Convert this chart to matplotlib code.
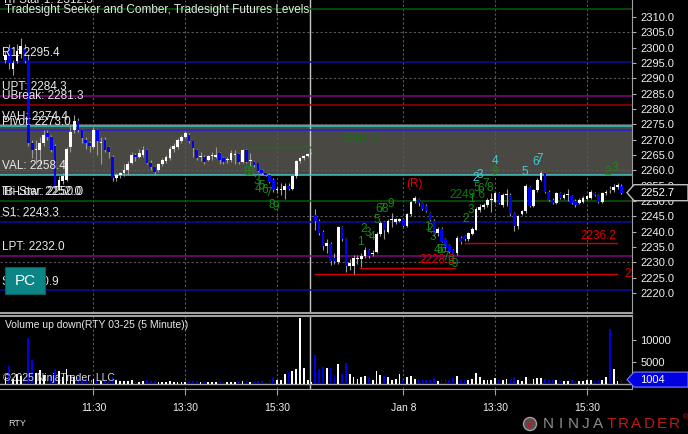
import numpy as np
import pandas as pd
import matplotlib
matplotlib.use("Agg")
import matplotlib.pyplot as plt
from matplotlib.patches import Polygon, Rectangle, Circle
import matplotlib.transforms as mtransforms

plt.rcParams['font.family'] = ['Liberation Sans', 'DejaVu Sans']

W, H = 688, 434

# ---------------- data: RTY 03-25, 5 minute bars ----------------
day1_open = [2296, 2300, 2293, 2295.5, 2298, 2300, 2296, 2269, 2266.5, 2266.5,
             2269, 2272, 2271, 2268, 2254.5, 2256.5, 2257, 2267.5, 2273, 2276,
             2273, 2270, 2269, 2267.5, 2273, 2269, 2270, 2267.5, 2264.5, 2257.5,
             2258.5, 2259, 2260, 2262.5, 2265, 2264.5, 2265, 2266.5, 2262.5, 2261,
             2260, 2262, 2263, 2264, 2266.8, 2267.6, 2269.4, 2271, 2271.5, 2269.4,
             2266.6, 2264.5, 2264.5, 2263.4, 2264.7, 2264.5, 2265.6, 2264, 2263.2, 2263.2,
             2265, 2265.3, 2262.8, 2266.5, 2263, 2262.8, 2262.3, 2260, 2259.2, 2258.5,
             2257, 2253.7, 2253.5, 2253.7, 2255, 2254, 2258, 2263, 2264, 2264.8,
             2265.5]
day1_high = [2299, 2301, 2296, 2301, 2303, 2301, 2298, 2270, 2270, 2271,
             2273, 2273, 2271.5, 2268.5, 2258, 2259, 2267.5, 2275, 2278, 2277,
             2273.5, 2271, 2269.5, 2274, 2273.5, 2271, 2271, 2268, 2265, 2259,
             2259.5, 2262, 2263, 2266, 2265.5, 2267, 2268, 2267, 2263.5, 2261.5,
             2262.5, 2264, 2265, 2268, 2269, 2270.5, 2271.5, 2272.8, 2272, 2269.5,
             2267, 2266, 2265, 2265, 2266, 2267.5, 2266, 2264.5, 2264.5, 2266.5,
             2266.5, 2265.5, 2267, 2267, 2265.5, 2263, 2262.5, 2260.5, 2259.5, 2259,
             2257.5, 2255, 2256, 2256, 2256, 2258.5, 2263.5, 2264.5, 2265, 2265.7,
             2266]
day1_low = [2295, 2293, 2291, 2295, 2296.5, 2295, 2268, 2264, 2262, 2261,
            2268, 2270, 2266, 2253.5, 2253.5, 2255.5, 2256.5, 2266, 2272, 2272.5,
            2269, 2267, 2266, 2267, 2265, 2262, 2266, 2264, 2256.5, 2256.5,
            2257.5, 2258, 2258.5, 2262, 2263, 2264, 2264.5, 2262, 2260, 2258.5,
            2259.5, 2261.5, 2262.5, 2263.5, 2266, 2267, 2269, 2270.5, 2269, 2264.5,
            2263.5, 2263, 2262, 2263, 2263.5, 2264, 2262, 2262, 2262.5, 2262.8,
            2262, 2262, 2262.5, 2262.5, 2261.5, 2261, 2259.5, 2258.5, 2258, 2256,
            2253, 2252.5, 2252, 2250.6, 2253.5, 2253.5, 2257.5, 2262.5, 2263.5, 2264.5,
            2265.3]
day1_close = [2297.5, 2295, 2295, 2299, 2300.5, 2295.5, 2269, 2266.5, 2267, 2269,
              2271.5, 2271, 2266.5, 2254.5, 2257, 2258, 2267, 2272.5, 2276, 2273,
              2270.5, 2269, 2268, 2273, 2269.5, 2269.2, 2266.5, 2266, 2257.5, 2258.5,
              2259, 2260, 2262, 2265, 2264.5, 2265.5, 2266.5, 2262.5, 2261, 2259.5,
              2262, 2263.4, 2264.5, 2267, 2268, 2269.8, 2271, 2272, 2269.4, 2267.2,
              2264, 2264.6, 2262.8, 2264.7, 2264.8, 2265, 2263.4, 2262.8, 2263.8, 2265.8,
              2265.1, 2262.8, 2266.7, 2262.8, 2263.1, 2261.7, 2259.8, 2259, 2258.5, 2256.3,
              2253.7, 2253.8, 2254, 2255, 2254, 2258, 2263, 2264, 2264.7, 2265.3,
              2265.8]
day1_volume = [1500, 4100, 1200, 2200, 1800, 1500, 10400, 5400, 2500, 3200,
               2000, 1200, 2000, 3300, 3000, 1500, 3400, 2000, 1600, 1500,
               1200, 900, 800, 1200, 900, 700, 800, 600, 1500, 800,
               700, 600, 700, 900, 500, 500, 600, 800, 700, 600,
               500, 500, 450, 700, 500, 500, 450, 400, 500, 600,
               700, 400, 500, 400, 350, 450, 500, 500, 400, 450,
               400, 500, 600, 600, 500, 500, 600, 700, 500, 900,
               1500, 1000, 1000, 2300, 2700, 2900, 3300, 14900, 3600, 900,
               500]

day2_open = [2245.5, 2243.5, 2240, 2235.3, 2236, 2231.5, 2230, 2241.5, 2237.5, 2228.8,
             2228.8, 2231, 2231.1, 2232, 2234, 2232.6, 2233.3, 2239.4, 2243, 2240,
             2243.7, 2243.3, 2243.4, 2244, 2242, 2245.6, 2250, 2250.5, 2249.3, 2248.5,
             2246, 2243.5, 2239.5, 2241, 2237.5, 2235.5, 2234, 2233, 2238, 2238.5,
             2237.5, 2239.4, 2240.7, 2247.1, 2248.2, 2248.7, 2250.4, 2249.8, 2252.5, 2248.7,
             2252, 2252, 2246.1, 2242, 2245.9, 2246.6, 2254.5, 2248.5, 2253.6, 2257,
             2259, 2253, 2250.4, 2249.5, 2252.5, 2251, 2252, 2251.6, 2250.1, 2249.3,
             2249.8, 2250.6, 2250.9, 2252.7, 2252, 2249.8, 2252.5, 2254, 2253.5, 2254.5,
             2255]
day2_high = [2247.5, 2244, 2240.5, 2237.5, 2236.5, 2233, 2242, 2242, 2238, 2231,
             2232.5, 2232.5, 2233, 2235, 2234.5, 2234, 2240, 2243.5, 2243.5, 2244,
             2246, 2244.5, 2244.5, 2244.5, 2246, 2250, 2251.5, 2251, 2249.8, 2249,
             2246.5, 2244, 2241.5, 2241.5, 2238, 2236, 2234.5, 2238.5, 2238.5, 2239,
             2240, 2241.5, 2248, 2249, 2249.5, 2251, 2252.5, 2253, 2253, 2252.5,
             2254, 2252.5, 2246.5, 2245.5, 2247, 2255.5, 2255, 2254, 2257.5, 2259.8,
             2259.5, 2253.5, 2251, 2253, 2253, 2252.5, 2254, 2252, 2250.5, 2251,
             2251.5, 2252, 2253.5, 2253, 2252.3, 2253, 2253.5, 2255, 2255.5, 2256,
             2255.5]
day2_low = [2240.5, 2239, 2234, 2233, 2229, 2229.5, 2229.5, 2237, 2227, 2227.5,
            2226.1, 2229.5, 2228.5, 2231.5, 2231.5, 2232, 2233, 2238.5, 2237.5, 2239.5,
            2241.5, 2242.5, 2243, 2241.5, 2241.5, 2245, 2249.5, 2248.5, 2247, 2246.3,
            2243.5, 2238.5, 2238.5, 2236.5, 2234.5, 2233, 2231.5, 2232.5, 2236, 2237,
            2237, 2239, 2240.5, 2246.5, 2247.5, 2248, 2246.5, 2249.5, 2249, 2248,
            2248.5, 2245, 2240.1, 2241, 2245.5, 2246, 2248, 2248, 2253, 2256.5,
            2252.5, 2250, 2249, 2249, 2250.5, 2250.5, 2250, 2249, 2248, 2249,
            2249.5, 2250.3, 2250.5, 2251.5, 2249.5, 2249.5, 2252, 2252.5, 2253, 2254,
            2252.3]
day2_close = [2243.5, 2239.6, 2235.3, 2236.3, 2230.4, 2230.5, 2241.5, 2237.5, 2228.8, 2229.9,
              2231.5, 2231.5, 2232.2, 2234, 2232.2, 2233.2, 2239.4, 2242.8, 2240.6, 2243.4,
              2243.8, 2244, 2244, 2242, 2245.6, 2249.8, 2250.9, 2249.3, 2247.5, 2246.6,
              2243.8, 2239, 2241, 2236.8, 2235, 2233.5, 2232.5, 2238, 2236.5, 2237.5,
              2239.6, 2240.9, 2247.4, 2248.2, 2248.7, 2250.4, 2250.5, 2252.5, 2249.3, 2252,
              2252.1, 2245.6, 2241.7, 2245.2, 2246.6, 2254.9, 2248.5, 2253.6, 2257, 2259,
              2253, 2250.4, 2249.5, 2252.7, 2250.9, 2252, 2252.1, 2249.5, 2248.7, 2250.4,
              2250.9, 2251.7, 2253, 2252, 2249.8, 2252.5, 2253, 2253.5, 2254.5, 2255.3,
              2252.7]
day2_volume = [6600, 3400, 3900, 3700, 3600, 2000, 4500, 2200, 4800, 2300,
               1600, 1200, 1500, 1800, 1300, 900, 3000, 2000, 1800, 1500,
               800, 1100, 2200, 900, 1500, 1900, 1200, 800, 1100, 900,
               900, 1300, 700, 900, 1100, 900, 1300, 1900, 1000, 900,
               800, 1200, 2500, 1500, 1000, 800, 900, 1300, 900, 800,
               1200, 1000, 1500, 900, 700, 1500, 1000, 1200, 1300, 1400,
               1100, 1000, 800, 1000, 700, 600, 700, 800, 700, 600,
               700, 900, 800, 700, 800, 900, 1500, 12500, 3400, 700,
               1004]

times = pd.date_range('2025-01-07 09:35', '2025-01-07 16:15', freq='5min').append(
    pd.date_range('2025-01-08 09:35', '2025-01-08 16:15', freq='5min'))

tick_times = ['2025-01-07 11:30', '2025-01-07 13:30', '2025-01-07 15:30',
              '2025-01-08 11:30', '2025-01-08 13:30', '2025-01-08 15:30']
tick_labels = ['11:30', '13:30', '15:30', 'Jan 8', '13:30', '15:30']

# Tradesight levels
level_names = ['Tri-Star 1', 'R1', 'UPT', 'UBreak', 'VAH', 'Pivot', 'VAL',
               'Tri-Star', 'IB-Low', 'S1', 'LPT', 'S2']
level_values = [2312.5, 2295.4, 2284.3, 2281.3, 2274.4, 2273.0, 2258.4,
                2250.0, 2252.0, 2243.3, 2232.0, 2220.9]
level_label_at = [2312.5, 2295.4, 2284.3, 2281.3, 2274.4, 2273.0, 2258.4,
                  2250.0, 2250.0, 2243.3, 2232.0, 2220.9]
level_colors = ['#0a5a0a', '#0c0ca0', '#800880', '#a00000', '#3fc6c6', '#2020e0', '#3fc6c6',
                '#0a5a0a', None, '#0c0ca0', '#800880', '#0c0ca0']

# Seeker / Comber target lines
red_values = [2228.3, 2236.2, 2226.3]
red_start = [92.8, 120.0, 81.0]
red_end = [117.5, 159.8, 159.8]
green_values = [2267.7]
green_start = [63.0]
green_end = [80.5]

# counts  (bar position, price, text)
green_counts = [
    (63.1, 2259.5, '8'), (64.2, 2259.5, '3'), (65.8, 2256.6, '3'), (66.0, 2254.0, '4'),
    (67.1, 2255.0, '5'), (67.8, 2253.6, '6'), (68.9, 2252.7, '7'), (69.7, 2248.8, '8'),
    (70.7, 2248.1, '9'),
    (92.7, 2236.7, '1'), (93.7, 2240.9, '2'), (94.8, 2239.6, '3'), (95.8, 2238.3, '4'),
    (97.1, 2243.9, '5'), (97.6, 2247.5, '6'), (98.4, 2247.5, '7'), (99.2, 2247.5, '8'),
    (100.8, 2249.1, '9'),
    (110.2, 2241.6, '1'), (111.0, 2240.9, '2'), (111.8, 2238.3, '3'), (112.8, 2234.1, '4'),
    (113.6, 2234.1, '5'), (114.4, 2234.1, '6'), (115.2, 2231.8, '7'), (116.5, 2230.2, '8'),
    (117.5, 2229.5, '9'),
    (120.4, 2244.2, '2'), (121.7, 2247.1, '3'), (121.7, 2250.7, '1'), (123.3, 2254.3, '5'),
    (124.1, 2254.0, '6'), (125.4, 2255.6, '7'), (126.7, 2254.3, '8'), (128.0, 2259.5, '9'),
    (157.5, 2259.5, '2'), (159.3, 2260.8, '3'),
]
cyan_counts = [(123.0, 2257.6, '2'), (124.0, 2258.5, '3'), (128.0, 2263.1, '4'),
               (135.8, 2259.5, '5'), (138.7, 2262.8, '6'), (139.7, 2263.7, '7')]

# ---------------- assemble ----------------
o = np.array(day1_open + day2_open, float)
h = np.array(day1_high + day2_high, float)
l = np.array(day1_low + day2_low, float)
c = np.array(day1_close + day2_close, float)
v = np.array(day1_volume + day2_volume, float)
x = np.arange(len(c))
tick_pos = [times.get_loc(pd.Timestamp(t)) for t in tick_times]
session_line = len(day1_close) - 1.4

BG = 'black'
UP = '#ffffff'
DN = '#0000ff'

fig = plt.figure(figsize=(W / 100, H / 100), dpi=100, facecolor=BG)

def rect(x0, y0, x1, y1):
    return [x0 / W, 1 - y1 / H, (x1 - x0) / W, (y1 - y0) / H]

xlim = (-1.41, 163.77)

# ---- price panel ----
ax = fig.add_axes(rect(0, 0, 632, 313))
ax.set_facecolor(BG)
ax.set_xlim(*xlim)
ax.set_ylim(2213.5, 2315.5)

# value area box
ax.axhspan(level_values[6], level_values[4] + 0.6, color='#4a4843', zorder=0.5, lw=0)

# grid
for gy in np.arange(2230, 2306, 15):
    ax.axhline(gy, color='#5a5a5a', lw=0.8, ls=(0, (2, 2)), zorder=0.8)
for tp in tick_pos:
    ax.axvline(tp, color='#5a5a5a', lw=0.8, ls=(0, (2, 2)), zorder=0.8)
ax.axvline(session_line, color='#c8c8c8', lw=1.0, zorder=0.9)

blend = mtransforms.blended_transform_factory(ax.transAxes, ax.transData)
for name, val, at, col in zip(level_names, level_values, level_label_at, level_colors):
    if col is not None:
        ax.axhline(val, color=col, lw=1.1, zorder=1)
    ax.text(0.003, at + 0.9, f"{name}: {val:.1f}", transform=blend, color='#e8e8e8',
            fontsize=8.5, va='bottom', ha='left', zorder=6)

for val, s, e in zip(red_values, red_start, red_end):
    ax.plot([s, e], [val, val], color='#d00000', lw=1.0, zorder=1.2)
ax.text(red_end[0], red_values[0] + 0.5, f"{red_values[0]:.1f}", color='#e00000',
        fontsize=8.5, ha='right', va='bottom', zorder=6)
ax.text(red_end[1], red_values[1] + 0.5, f"{red_values[1]:.1f}", color='#e00000',
        fontsize=8.5, ha='right', va='bottom', zorder=6)
ax.text(161.9, red_values[2], f"{red_values[2]:.1f}", color='#e00000',
        fontsize=8.5, ha='left', va='center', zorder=6, clip_on=True)
for val, s, e in zip(green_values, green_start, green_end):
    ax.plot([s, e], [val, val], color='#0a7a0a', lw=1.0, zorder=1.2)
    ax.text(88.2, val + 0.5, f"{val:.1f}", color='#0a7a0a', fontsize=8.5,
            ha='left', va='bottom', zorder=6)
ax.text(116.0, 2252.0, "2249.6", color='#0a7a0a', fontsize=8.5, ha='left',
        va='center', zorder=6)

# candles
up = c >= o
ax.vlines(x, l, h, color='#9a9a9a', lw=0.8, zorder=2)
body_lo = np.minimum(o, c)
body_h = np.maximum(np.abs(c - o), 0.3)
ax.bar(x[up], body_h[up], bottom=body_lo[up], width=0.7, color=UP, zorder=3, lw=0)
ax.bar(x[~up], body_h[~up], bottom=body_lo[~up], width=0.7, color=DN, zorder=3, lw=0)

for px, py, t in green_counts:
    ax.text(px, py, t, color='#138c13', fontsize=8.5, ha='center', va='center', zorder=5)
for px, py, t in cyan_counts:
    ax.text(px, py, t, color='#3ccfd6', fontsize=8.5, ha='center', va='center', zorder=5)
ax.text(106.8, 2255.6, "(R)", color='#e00000', fontsize=8.5, ha='center', va='center', zorder=5)

ax.yaxis.tick_right()
ax.set_yticks(np.arange(2220, 2311, 5))
ax.set_yticklabels([f"{t:.1f}" for t in np.arange(2220, 2311, 5)])
ax.tick_params(axis='y', colors='#b0b0b0', labelcolor='#f0f0f0', labelsize=8, length=3, pad=3)
ax.set_xticks([])
for s in ['left', 'top']:
    ax.spines[s].set_visible(False)
ax.spines['right'].set_color('#a0a0a0')
ax.spines['bottom'].set_color('#a0a0a0')
ax.spines['bottom'].set_linewidth(1.5)

# ---- volume panel ----
av = fig.add_axes(rect(0, 316, 632, 389))
av.set_facecolor(BG)
av.set_xlim(*xlim)
av.set_ylim(-1136, 15454)
for tp in tick_pos:
    av.axvline(tp, color='#5a5a5a', lw=0.8, ls=(0, (2, 2)), zorder=0.8)
av.axvline(session_line, color='#c8c8c8', lw=1.0, zorder=0.9)
av.axhline(0, color='#a0a0a0', lw=1.0, zorder=1)
av.bar(x[up], v[up], width=0.45, color=UP, zorder=2, lw=0)
av.bar(x[~up], v[~up], width=0.45, color='#0000e6', zorder=2, lw=0)
av.yaxis.tick_right()
av.set_yticks([5000, 10000])
av.set_yticklabels(['5000', '10000'])
av.tick_params(axis='y', colors='#b0b0b0', labelcolor='#f0f0f0', labelsize=8, length=3, pad=3)
av.set_xticks(tick_pos)
av.set_xticklabels(tick_labels)
av.tick_params(axis='x', colors='#a0a0a0', labelcolor='#f0f0f0', labelsize=7.5, length=4, pad=6)
av.spines['left'].set_visible(False)
for s in ['right', 'top', 'bottom']:
    av.spines[s].set_color('#a0a0a0')
av.spines['top'].set_linewidth(1.5)

# ---- overlay in pixel coordinates ----
ov = fig.add_axes([0, 0, 1, 1], zorder=10)
ov.set_xlim(0, W)
ov.set_ylim(H, 0)
ov.axis('off')
ov.patch.set_alpha(0)

def to_px(axis, xv, yv):
    dx, dy = axis.transData.transform((xv, yv))
    return dx, H - dy

ov.text(5, 10, "Tradesight Seeker and Comber, Tradesight Futures Levels", color='#e8e8e8',
        fontsize=8.5, ha='left', va='center')

# PC button
ov.add_patch(Rectangle((5, 267), 40, 27, facecolor='#0b8585', edgecolor='#06605f', lw=0.8))
ov.text(25, 281, "PC", color='white', fontsize=11, ha='center', va='center')

# last price marker
_, yp = to_px(ax, 0, c[-1])
ov.add_patch(Polygon([(627, yp), (634, yp - 8), (688, yp - 8), (688, yp + 8), (634, yp + 8)],
                     closed=True, facecolor='black', edgecolor='#c0c0c0', lw=1))
ov.text(640, yp, f"{c[-1]:.1f}", color='white', fontsize=8, ha='left', va='center')

# last volume marker
_, yv = to_px(av, 0, v[-1])
ov.add_patch(Polygon([(627, yv), (634, yv - 7.5), (688, yv - 7.5), (688, yv + 7.5), (634, yv + 7.5)],
                     closed=True, facecolor='#0000e0', edgecolor='#8080ff', lw=0.8))
ov.text(640, yv, f"{int(v[-1])}", color='white', fontsize=8, ha='left', va='center')

ov.text(5, 325, "Volume up down(RTY 03-25 (5 Minute))", color='#e8e8e8', fontsize=7.5,
        ha='left', va='center')
ov.text(3, 378, "\u00a92025 NinjaTrader, LLC", color='#d8d8d8', fontsize=7.5,
        ha='left', va='center')
ov.text(8, 423, "RTY", color='#e0e0e0', fontsize=6.5, ha='left', va='center')

# NinjaTrader logo
ov.add_patch(Circle((530, 424), 6.5, facecolor='#505050', edgecolor='#a0a0a0', lw=1.0))
ov.text(530, 424.5, "V", color='#c01818', fontsize=8, ha='center', va='center', fontweight='bold')
brand = "NINJATRADER"
for k, ch in enumerate(brand):
    ov.text(548 + k * 12.6, 424, ch, color='#8c8c8c' if k < 5 else '#c01818',
            fontsize=11, ha='center', va='center')
ov.text(683, 418, "\u00ae", color='#c01818', fontsize=5, ha='left', va='center')

fig.savefig('out.png', dpi=100, facecolor=BG)
